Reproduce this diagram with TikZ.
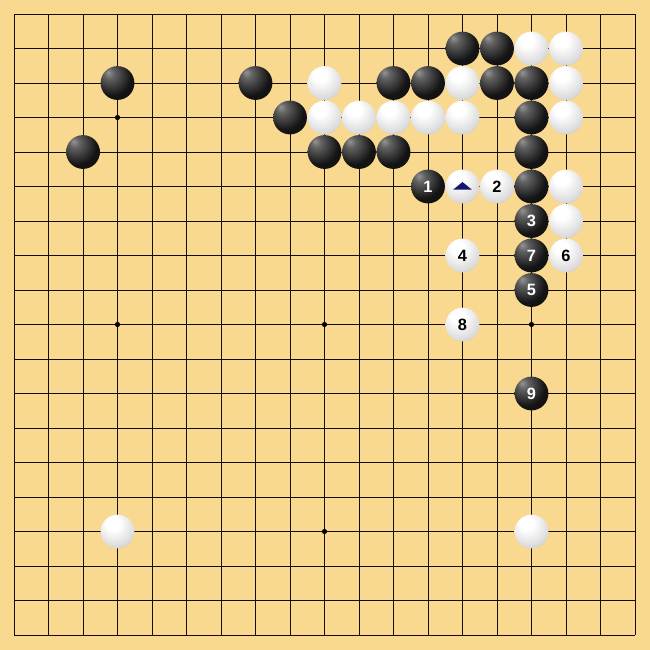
\documentclass[tikz,border=0pt]{standalone}
\usepackage{fontspec}
\setsansfont{Liberation Sans}
\usepackage{tikz}

\definecolor{boardwood}{RGB}{249,216,144}
\definecolor{marknavy}{RGB}{22,22,110}

\pgfdeclareradialshading{blackstone}{\pgfpoint{-14bp}{16bp}}{%
  color(0bp)=(black!42); color(8bp)=(black!62); color(28bp)=(black!92);
  color(72bp)=(black)}
\pgfdeclareradialshading{whitestone}{\pgfpoint{-8bp}{14bp}}{%
  color(0bp)=(white); color(10bp)=(white); color(30bp)=(white!86!black);
  color(45bp)=(white!68!black); color(60bp)=(white!50!black); color(72bp)=(white!42!black)}

\tikzset{
  gridline/.style={line width=0.75pt, black!90!brown},
  starpt/.style={fill=black},
  bstone/.style={circle, minimum size=0.98cm, inner sep=0pt, shading=blackstone,
    text=white, font=\sffamily\bfseries\fontsize{13.5}{14}\selectfont},
  wstone/.style={circle, minimum size=0.98cm, inner sep=0pt, shading=whitestone,
    text=black, font=\sffamily\bfseries\fontsize{13.5}{14}\selectfont}
}

\begin{document}
\begin{tikzpicture}
        % Board
        \useasboundingbox (-0.406,0.406) rectangle (18.435,-18.435);
        \fill[boardwood] (-0.406,0.406) rectangle (18.435,-18.435);
        \draw[gridline] (0,0) grid (18,-18);

        % Star points
        \foreach \c/\r in {3/3,9/9,15/9,3/9,9/15}
            \fill[starpt] (\c,-\r) circle (0.075);

        % Black stones
        \foreach \c/\r in {13/1,14/1,3/2,7/2,11/2,12/2,14/2,15/2,8/3,15/3,
                           2/4,9/4,10/4,11/4,15/4,15/5}
            \node[bstone] (b\c-\r) at (\c,-\r) {};

        % White stones
        \foreach \c/\r in {15/1,16/1,9/2,13/2,16/2,9/3,10/3,11/3,12/3,13/3,16/3,
                           16/5,16/6,3/15,15/15}
            \node[wstone] (w\c-\r) at (\c,-\r) {};

        % Numbered moves
        \node[bstone] (m1) at (12,-5) {1};
        \node[wstone] (m2) at (14,-5) {2};
        \node[bstone] (m3) at (15,-6) {3};
        \node[wstone] (m4) at (13,-7) {4};
        \node[bstone] (m5) at (15,-8) {5};
        \node[wstone] (m6) at (16,-7) {6};
        \node[bstone] (m7) at (15,-7) {7};
        \node[wstone] (m8) at (13,-9) {8};
        \node[bstone] (m9) at (15,-11) {9};

        % Marked stone
        \node[wstone] (w13-5) at (13,-5) {};
        \fill[marknavy] ([shift={(-0.27,-0.09)}]w13-5.center) -- ([shift={(0.27,-0.09)}]w13-5.center)
            -- ([shift={(0,0.13)}]w13-5.center) -- cycle;
\end{tikzpicture}
\end{document}
